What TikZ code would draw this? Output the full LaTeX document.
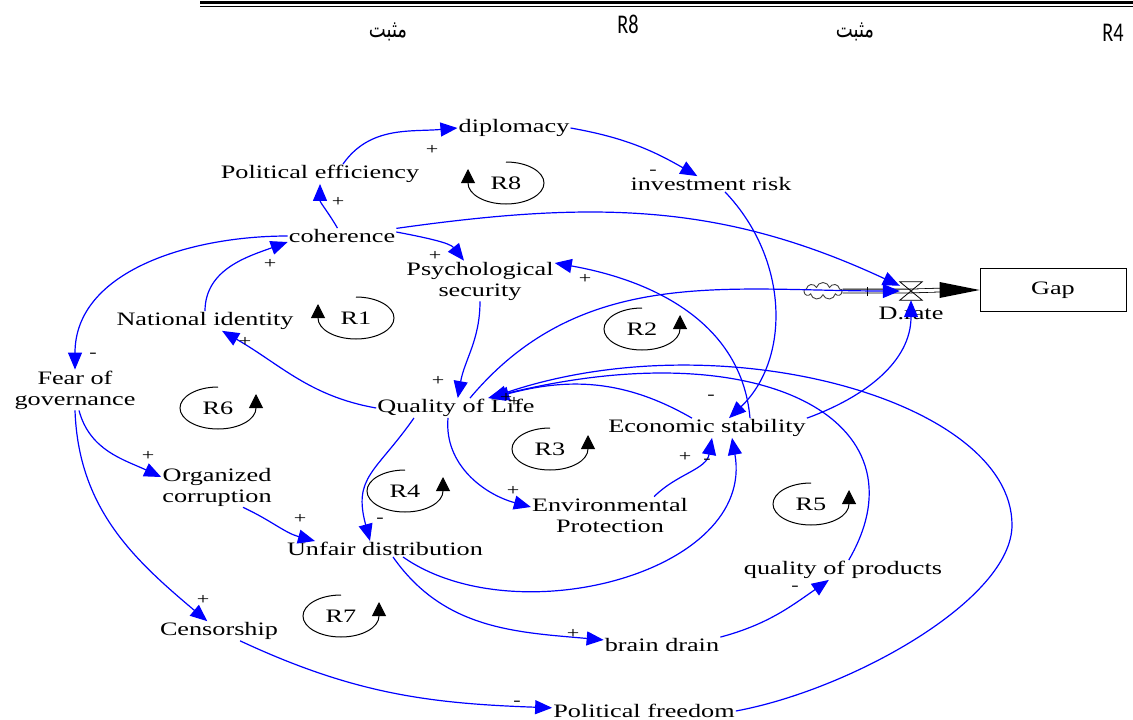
\documentclass[tikz,border=0pt]{standalone}
\usepackage{fontspec}
\usepackage{tikz}
\usetikzlibrary{arrows.meta,shapes.symbols}
\setmainfont{Liberation Serif}
\newfontfamily\diagfont{Liberation Serif}[FakeStretch=1.38]
\newfontfamily\arabicfont[Script=Arabic,FakeStretch=0.75]{DejaVu Sans}
\newfontfamily\titrefont{Carlito}[FakeStretch=0.75]
\TeXXeTstate=1

\tikzset{
  var/.style={font=\diagfont\fontsize{19}{21}\selectfont, inner sep=1pt, align=center},
  signe/.style={font=\diagfont\fontsize{16}{16}\selectfont, inner sep=0pt},
  lien/.style={blue, line width=1.2pt, -{Triangle[length=17pt,width=14pt]}},
  boucle/.style={black, line width=1pt, -{Triangle[length=14pt,width=14pt]}},
  rlab/.style={font=\diagfont\fontsize{19}{21}\selectfont, inner sep=0pt},
  entete/.style={font=\titrefont\fontsize{27}{29}\selectfont, inner sep=0pt},
  vanne/.style={minimum width=22pt, minimum height=18pt, inner sep=0pt},
  stock/.style={draw, line width=0.9pt, minimum width=146pt, minimum height=43pt, font=\diagfont\fontsize{19}{21}\selectfont},
  nuage/.style={cloud, cloud puffs=9, aspect=2.3, draw=black!75, line width=0.9pt, minimum width=38pt, minimum height=17pt, inner sep=0pt}
}

% boucle avec fleche a droite / a gauche
\newcommand{\boucleD}[3]{%
  \node[rlab] (#1) at (#2) {#3};
  \draw[boucle] (#1.center) ++(0,21) arc[start angle=90, end angle=360, x radius=38pt, y radius=21pt] -- ++(0,14);}
\newcommand{\boucleG}[3]{%
  \node[rlab] (#1) at (#2) {#3};
  \draw[boucle] (#1.center) ++(0,21) arc[start angle=90, end angle=-180, x radius=38pt, y radius=21pt] -- ++(0,14);}

\begin{document}
\begin{tikzpicture}[x=1pt,y=1pt]
\useasboundingbox (0,0) rectangle (1133,-720);

% En-tete
\draw[line width=3pt] (200,-2.5) -- (1133,-2.5);
\draw[line width=1pt] (200,-6.5) -- (1133,-6.5);
\node[entete] (mot1) at (388,-32) {\arabicfont\fontsize{24}{26}\selectfont\beginR مثبت\endR};
\node[entete] (titre8) at (628,-24) {R8};
\node[entete] (mot2) at (855,-32) {\arabicfont\fontsize{24}{26}\selectfont\beginR مثبت\endR};
\node[entete] (titre4) at (1113,-33) {R4};

% Variables
\node[var] (dip) at (514,-128) {diplomacy};
\node[var] (peff) at (320,-174) {Political efficiency};
\node[var] (irisk) at (711,-184) {investment risk};
\node[var] (coh) at (342,-236) {coherence};
\node[var] (psy) at (480,-281) {Psychological\\security};
\node[var] (nid) at (205,-321) {National identity};
\node[var] (fear) at (75,-390) {Fear of\\governance};
\node[var] (qol) at (456,-408) {Quality of Life};
\node[var] (eco) at (707,-428) {Economic stability};
\node[var] (orgc) at (217,-487) {Organized\\corruption};
\node[var] (env) at (610,-515) {Environmental\\Protection};
\node[var] (unf) at (385,-549) {Unfair distribution};
\node[var] (qprod) at (843,-570) {quality of products};
\node[var] (cens) at (219,-631) {Censorship};
\node[var] (brain) at (662,-645) {brain drain};
\node[var] (pfree) at (644,-711) {Political freedom};

% Stock et flux
\node[stock] (gap) at (1053,-290) {Gap};
\node[nuage] (cloud) at (823,-291) {};
\node[vanne] (valve) at (911,-291) {};
\node[var] (drate) at (911,-313) {D.rate};
\draw[double, double distance=3pt, line width=0.8pt] (cloud.east) -- (valve.center);
\draw[double, double distance=3pt, line width=0.8pt] (valve.center) -- ([xshift=-38pt]gap.west);
\draw[line width=0.8pt] ([xshift=25pt,yshift=-5pt]cloud.east) -- ++(0,9);
\fill (gap.west) -- ++(-40,8) -- ++(0,-16) -- cycle;
\draw[line width=0.8pt] (valve.north west) -- (valve.north east) -- (valve.south west) -- (valve.south east) -- cycle;

% Boucles
\boucleG{r8}{506,-183}{R8}
\boucleG{r1}{356,-318}{R1}
\boucleD{r2}{642,-329}{R2}
\boucleD{r6}{218,-408}{R6}
\boucleD{r3}{550,-449}{R3}
\boucleD{r4}{405,-491}{R4}
\boucleD{r5}{811,-504}{R5}
\boucleD{r7}{341,-616}{R7}

% Liens causaux
\draw[lien] ([xshift=23pt]peff.north) to[out=55,in=185] (dip.west);
\draw[lien] (dip.east) to[out=-10,in=150] (irisk);
\draw[lien] (coh) to[out=120,in=-90] (peff.south);
\draw[lien] ([yshift=4pt]coh.east) .. controls (428,-238) and (450,-243) .. ([xshift=-16pt]psy.north);
\draw[lien] (coh) to[out=8,in=155] (valve);
\draw[lien] (nid) to[out=90,in=200] ([yshift=-6pt]coh.west);
\draw[lien] (coh.west) to[out=180,in=90] (fear);
\draw[lien] (qol.west) to[out=170,in=-30] (nid);
\draw[lien] (psy) to[out=-90,in=80] (qol);
\draw[lien] ([xshift=43pt]eco.north) to[out=95,in=-10] ([yshift=18pt]psy.east);
\draw[lien] ([xshift=14pt]irisk.south) .. controls (790,-260) and (790,-360) .. ([xshift=22pt]eco.north);
\draw[lien] ([xshift=-15pt]eco.north) to[out=150,in=15] ([xshift=36pt]qol.north);
\draw[lien] (qprod) .. controls (930,-420) and (760,-330) .. ([xshift=32pt]qol.north);
\draw[lien] (pfree.east) .. controls (850,-690) and (1012,-600) .. (1012,-525)
  .. controls (1012,-400) and (720,-320) .. ([xshift=34pt]qol.north);
\draw[lien] ([xshift=14pt]qol.north) to[out=50,in=180] (valve);
\draw[lien] (eco.north east) to[out=20,in=-90] (valve);
\draw[lien] ([xshift=-8pt]qol.south) to[out=-95,in=165] ([yshift=8pt]env.west);
\draw[lien] ([xshift=-42pt]qol.south) to[out=-125,in=105,looseness=1.3] ([xshift=-15pt]unf.north);
\draw[lien] ([xshift=4pt]fear.south) to[out=-75,in=155] ([yshift=10pt]orgc.west);
\draw[lien] ([xshift=26pt]orgc.south) to[out=-25,in=165] ([xshift=-70pt]unf.north);
\draw[lien] (fear.south) to[out=-88,in=140] (cens);
\draw[lien] (cens) to[out=-25,in=178] (pfree);
\draw[lien] ([xshift=8pt]unf.south) to[out=-55,in=175] (brain);
\draw[lien] ([xshift=18pt]unf.south) to[out=-35,in=-80] ([xshift=25pt]eco.south);
\draw[lien] (brain.north east) to[out=15,in=215] (qprod);
\draw[lien] ([xshift=-35pt]env.north east) to[out=45,in=-100] ([xshift=5pt]eco.south);

% Polarites
\node[signe] (s1) at (432,-150) {+};
\node[signe] (s2) at (653,-172) {-};
\node[signe] (s3) at (338,-202) {+};
\node[signe] (s4) at (435,-256) {+};
\node[signe] (s5) at (270,-264) {+};
\node[signe] (s6) at (93,-355) {-};
\node[signe] (s7) at (245,-342) {+};
\node[signe] (s8) at (438,-381) {+};
\node[signe] (s9) at (585,-279) {+};
\node[signe] (s10) at (711,-397) {-};
\node[signe] (s11) at (506,-398) {+};
\node[signe] (s12) at (514,-402) {+};
\node[signe] (s13) at (513,-491) {+};
\node[signe] (s14) at (380,-520) {-};
\node[signe] (s15) at (148,-456) {+};
\node[signe] (s16) at (300,-519) {+};
\node[signe] (s17) at (203,-600) {+};
\node[signe] (s18) at (517,-703) {-};
\node[signe] (s19) at (573,-634) {+};
\node[signe] (s20) at (795,-588) {-};
\node[signe] (s21) at (707,-461) {-};
\node[signe] (s22) at (685,-457) {+};

\end{tikzpicture}
\end{document}
